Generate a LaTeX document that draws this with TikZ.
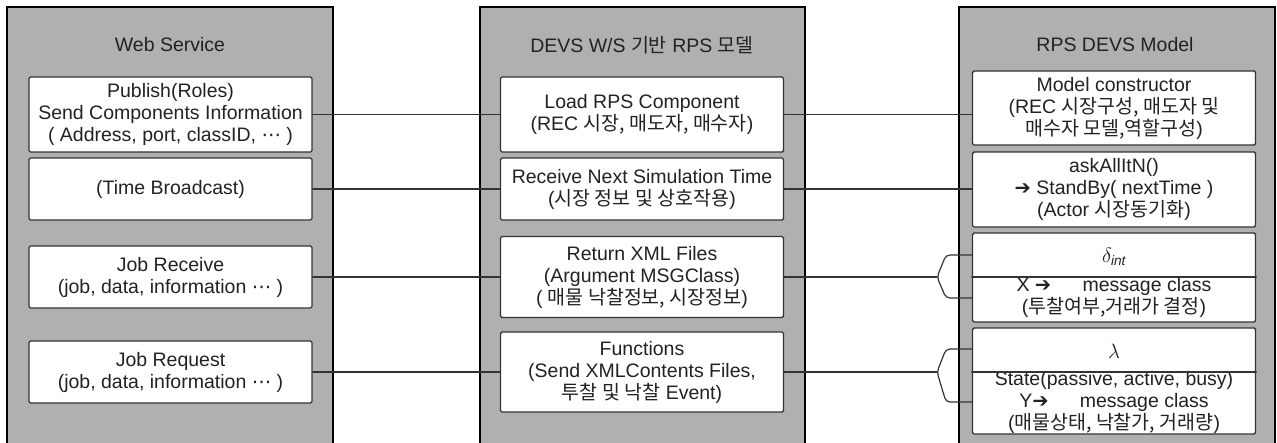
\documentclass[tikz,border=0pt]{standalone}
\usepackage{fontspec}
\setmainfont{Liberation Sans}
\newfontfamily\krfont{Noto Sans CJK KR}
\newfontfamily\symfont{DejaVu Sans}
\newcommand{\kr}[1]{{\krfont #1}}
\newcommand{\rarr}{{\symfont ➔}}
\newcommand{\etcdots}{{\symfont ⋯}}
\usetikzlibrary{calc}

\definecolor{panelgray}{HTML}{B0B0B0}
\definecolor{boxline}{HTML}{333333}
\definecolor{inkgray}{HTML}{222222}

\tikzset{
  panel/.style={draw=black, line width=1.3pt, fill=panelgray},
  title/.style={text=inkgray, font=\fontsize{19.5}{22}\selectfont},
  fnbox/.style={draw=boxline, line width=1.4pt, fill=white, rounded corners=1.5pt,
    minimum width=283pt, minimum height=#1, inner sep=0pt, align=center,
    text=inkgray, font=\fontsize{19.5}{22}\selectfont},
  fntext/.style={inner sep=0pt, align=center, text=inkgray, font=\fontsize{19.5}{22}\selectfont},
  link/.style={draw=boxline, line width=1.2pt},
}

\begin{document}
\begin{tikzpicture}[x=1pt,y=-1pt,line cap=round]
\useasboundingbox (0,0) rectangle (1277,442);

% three gray panels
\draw[panel] (7,7) rectangle (333,447);
\draw[panel] (480,7) rectangle (805,447);
\draw[panel] (959,7) rectangle (1275,447);

\node[title] (ws) at (170,45) {Web Service};
\node[title] (dv) at (642,45) {DEVS W/S \kr{기반} RPS \kr{모델}};
\node[title] (md) at (1115,45) {RPS DEVS Model};

%%% Web Service boxes
\node[fnbox=75pt] (ws1) at (170.5,114.5) {Publish(Roles)\\Send Components Information\\( Address, port, classID, \etcdots{} )};
\node[fnbox=62pt] (ws2) at (170.5,189) {(Time Broadcast)};
\node[fnbox=62pt] (ws3) at (170.5,277) {Job Receive\\(job, data, information \etcdots{} )};
\node[fnbox=62pt] (ws4) at (170.5,372) {Job Request\\(job, data, information \etcdots{} )};

%%% DEVS W/S boxes
\node[fnbox=75pt] (dv1) at (642,114.5) {Load RPS Component\\(REC \kr{시장, 매도자, 매수자})};
\node[fnbox=62pt] (dv2) at (642,189) {Receive Next Simulation Time\\(\kr{시장 정보 및 상호작용})};
\node[fnbox=81pt] (dv3) at (642,277) {Return XML Files\\(Argument MSGClass)\\( \kr{매물 낙찰정보, 시장정보})};
\node[fnbox=80pt] (dv4) at (642,372) {Functions\\(Send XMLContents Files,\\\kr{투찰 및 낙찰} Event)};

%%% RPS DEVS Model boxes
\node[fnbox=74pt] (md1) at (1114,108) {Model constructor\\(REC \kr{시장구성, 매도자 및}\\\kr{매수자 모델,역할구성})};
\node[fnbox=75pt] (md2) at (1114,189.5) {askAllItN()\\\rarr{} StandBy( nextTime )\\(Actor \kr{시장동기화})};
\node[fnbox=89pt] (md3) at (1114,277.5) {};
\node[fnbox=106pt] (md4) at (1114,381) {};

\node[fntext] (md3a) at (1114,257) {$\delta_{\mathit{int}}$};
\node[fntext] (md3b) at (1114,297.5) {X \rarr\hspace{1.6em}message class\\(\kr{투찰여부,거래가 결정})};
\node[fntext] (md4a) at (1114,351) {$\lambda$};
\node[fntext] (md4b) at (1114,402.5) {State(passive, active, busy)\\Y\rarr\hspace{1.6em}message class\\(\kr{매물상태, 낙찰가, 거래량})};

% brace tips in front of the split boxes
\coordinate (tip3) at (937,277);
\coordinate (tip4) at (937,372);

% straight links
\foreach \a/\b in {ws1/dv1, ws2/dv2, ws3/dv3, ws4/dv4, dv1/md1, dv2/md2}
  \draw[link] (\a.east) -- (\a.east -| \b.west);
\draw[link] (dv3.east) -- (tip3);
\draw[link] (dv4.east) -- (tip4);

% split lines inside the boxes
\draw[link] (md3.west |- tip3) -- (md3.east |- tip3);
\draw[link] (md4.west |- tip4) -- (md4.east |- tip4);

% braces
\draw[link, rounded corners=4pt] (md3.west |- 0,255) -- (946,255) -- (tip3) -- (946,298) -- (md3.west |- 0,298);
\draw[link, rounded corners=4pt] (md4.west |- 0,349) -- (946,349) -- (tip4) -- (946,402) -- (md4.west |- 0,402);

\end{tikzpicture}
\end{document}
